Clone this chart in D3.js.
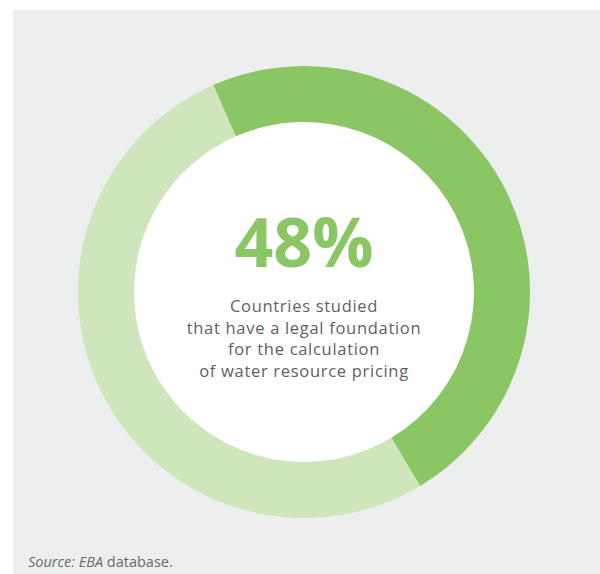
<!DOCTYPE html>
<html>
<head>
<meta charset="utf-8">
<script src="https://cdn.jsdelivr.net/npm/d3@7"></script>
<style>
  body { margin: 0; background: #ffffff; }
  svg { display: block; }
</style>
</head>
<body>
<svg id="chart"></svg>
<script>
"use strict";

const width = 600;
const height = 574;

// data
const categories = ["Legal foundation", "No legal foundation"];
const shares = [48, 52];
const headline = "48%";
const caption_lines = [
    "Countries studied",
    "that have a legal foundation",
    "for the calculation",
    "of water resource pricing"
];
const source_italic = "Source: EBA";
const source_plain = " database.";

const colors = ["#8bc664", "#cfe6bd"];

const cx = 304;
const cy = 292;
const outer_r = 226;
const inner_r = 170;
const start_deg = -23.7;

const svg = d3.select("#chart")
    .attr("width", width)
    .attr("height", height);

// panel
svg.append("rect")
    .attr("x", 13)
    .attr("y", 10)
    .attr("width", width - 13)
    .attr("height", height - 10)
    .attr("fill", "#edefee");

const pie = d3.pie()
    .sort(null)
    .startAngle(start_deg * Math.PI / 180)
    .endAngle(start_deg * Math.PI / 180 + 2 * Math.PI);

const arc = d3.arc()
    .innerRadius(inner_r)
    .outerRadius(outer_r);

const g = svg.append("g")
    .attr("transform", `translate(${cx}, ${cy})`);

g.append("circle")
    .attr("r", inner_r)
    .attr("fill", "#ffffff");

g.selectAll("path")
    .data(pie(shares))
    .enter()
    .append("path")
    .attr("d", arc)
    .attr("fill", (d, i) => colors[i]);

g.append("text")
    .text(headline)
    .attr("x", 0)
    .attr("y", -25)
    .attr("text-anchor", "middle")
    .style("font-family", "'Open Sans', sans-serif")
    .style("font-weight", "bold")
    .style("font-size", "68px")
    .style("fill", "#8bc664");

g.selectAll(".caption")
    .data(caption_lines)
    .enter()
    .append("text")
    .attr("class", "caption")
    .attr("x", 0)
    .attr("y", (d, i) => 20 + i * 21.5)
    .attr("text-anchor", "middle")
    .text(d => d)
    .style("font-family", "'Open Sans', sans-serif")
    .style("font-size", "16.5px")
    .style("letter-spacing", "0.7px")
    .style("fill", "#5f5f5f");

// source note
const src = svg.append("text")
    .attr("x", 28)
    .attr("y", 567)
    .style("font-family", "'Open Sans', sans-serif")
    .style("font-size", "14.5px")
    .style("fill", "#6a6a6a");

src.append("tspan")
    .style("font-style", "italic")
    .text(source_italic);

src.append("tspan")
    .text(source_plain);
</script>
</body>
</html>
